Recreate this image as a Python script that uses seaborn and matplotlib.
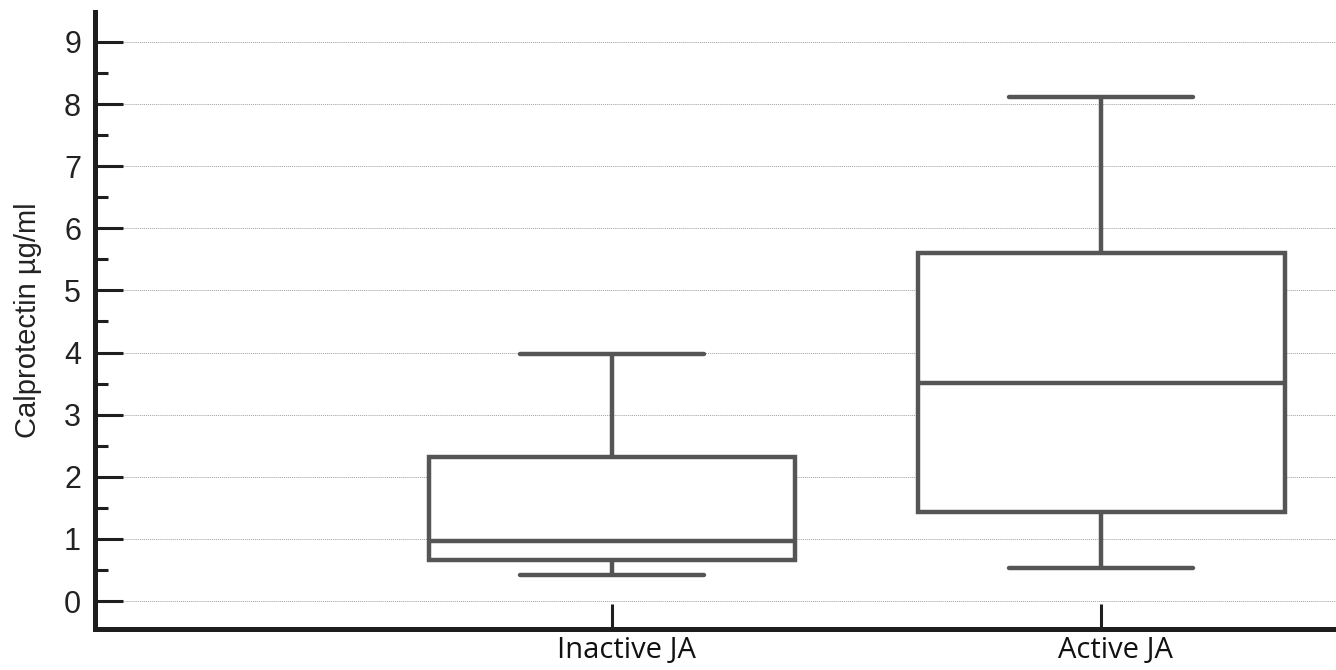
import matplotlib
matplotlib.use("Agg")
import matplotlib.pyplot as plt
import matplotlib.transforms as mtransforms
from matplotlib.ticker import MultipleLocator
import seaborn as sns
import pandas as pd

# five-number summaries (min, q1, median, q3, max)
groups = ["Inactive JA", "Active JA"]
inactive_vals = [0.42, 0.66, 0.97, 2.32, 3.98]
active_vals = [0.53, 1.43, 3.51, 5.60, 8.11]
y_ticks = [0, 1, 2, 3, 4, 5, 6, 7, 8, 9]

df = pd.DataFrame({
    "group": [groups[0]] * len(inactive_vals) + [groups[1]] * len(active_vals),
    "value": inactive_vals + active_vals,
})

sns.set_style("white")
plt.rcParams["font.family"] = ["Liberation Sans", "DejaVu Sans"]

box_col = "#555555"
axis_col = "#1e1e1e"

fig = plt.figure(figsize=(13.36, 6.70), dpi=100)
ax = fig.add_axes([0.0711, 0.0612, 0.9289, 0.9208])

ax.set_axisbelow(True)
ax.yaxis.grid(True, which="major", linestyle=(0, (1, 1)), color="#a0a0a0", linewidth=0.7)
ax.xaxis.grid(False)

sns.boxplot(data=df, x="group", y="value", order=groups, ax=ax, whis=(0, 100),
            width=0.75, color="white", linecolor=box_col, linewidth=3.2,
            showfliers=False, zorder=3)

ax.set_xlim(-1.057, 1.48)
ax.set_ylim(-0.45, 9.48)
ax.set_yticks(y_ticks)
ax.yaxis.set_minor_locator(MultipleLocator(0.5))

for s in ["top", "right"]:
    ax.spines[s].set_visible(False)
for s in ["left", "bottom"]:
    ax.spines[s].set_linewidth(3.6)
    ax.spines[s].set_color(axis_col)

ax.tick_params(axis="y", which="major", direction="in", length=20, width=2.2,
               color=axis_col, labelsize=22, pad=10, left=True, labelcolor="#222222")
ax.tick_params(axis="y", which="minor", direction="in", length=9.5, width=2.2,
               color=axis_col, left=True)
ax.tick_params(axis="x", which="major", direction="in", length=18, width=2.2,
               color=axis_col, pad=5, bottom=True)
shift = mtransforms.ScaledTranslation(14 / 100, 0, fig.dpi_scale_trans)
for lab in ax.get_xticklabels():
    lab.set_fontfamily(["Open Sans", "DejaVu Sans"])
    lab.set_fontsize(21)
    lab.set_color("#111111")
    lab.set_transform(lab.get_transform() + shift)

ax.set_xlabel("")
ax.set_ylabel("Calprotectin µg/ml", fontsize=21, labelpad=16, color="#222222")

fig.savefig("out.png", dpi=100)
plt.close(fig)
